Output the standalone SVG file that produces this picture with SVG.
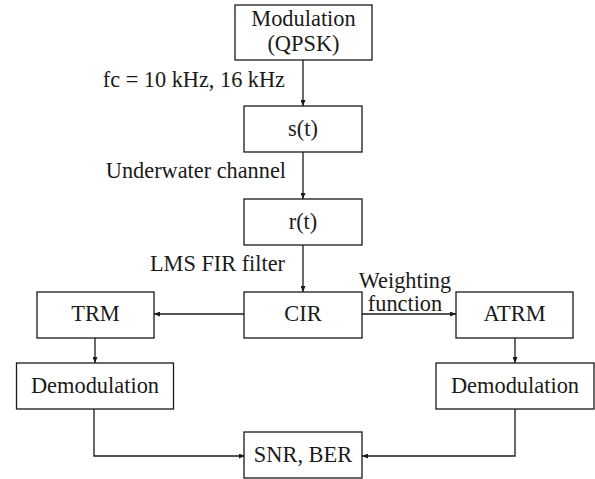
<svg xmlns="http://www.w3.org/2000/svg" width="595" height="479" viewBox="0 0 595 479">
<style>
.box{fill:#fff;stroke:#1a1a1a;stroke-width:1.3}
.t{font-family:"Liberation Serif","Times New Roman",serif;font-size:22.4px;fill:#1a1a1a;text-anchor:middle}
.l{font-family:"Liberation Serif","Times New Roman",serif;font-size:22.3px;fill:#1a1a1a}
.c{fill:none;stroke:#1a1a1a;stroke-width:1.3}
</style>
<defs>
<marker id="ah" viewBox="0 0 10 10" refX="10" refY="5" markerWidth="6" markerHeight="5" markerUnits="userSpaceOnUse" orient="auto" preserveAspectRatio="none">
<path d="M0,0 L10,5 L0,10 z" fill="#1a1a1a"/>
</marker>
</defs>
<rect width="595" height="479" fill="#fff"/>
<g id="connectors">
<line class="c" x1="303" y1="60" x2="303" y2="106" marker-end="url(#ah)"/>
<line class="c" x1="303" y1="152" x2="303" y2="199" marker-end="url(#ah)"/>
<line class="c" x1="303" y1="245" x2="303" y2="292" marker-end="url(#ah)"/>
<line class="c" x1="245" y1="314" x2="154" y2="314" marker-end="url(#ah)"/>
<line class="c" x1="362" y1="314" x2="456" y2="314" marker-end="url(#ah)"/>
<line class="c" x1="95" y1="338" x2="95" y2="363" marker-end="url(#ah)"/>
<line class="c" x1="515" y1="338" x2="515" y2="363" marker-end="url(#ah)"/>
<polyline class="c" points="94,409 94,456 245,456" marker-end="url(#ah)"/>
<polyline class="c" points="515,409 515,456 362,456" marker-end="url(#ah)"/>
<text class="l" x="285" y="87" text-anchor="end">fc = 10 kHz, 16 kHz</text>
<text class="l" x="286" y="178" text-anchor="end">Underwater channel</text>
<text class="l" x="285" y="271" text-anchor="end">LMS FIR filter</text>
<text class="l" x="405" y="288" text-anchor="middle" font-size="21.8">Weighting</text>
<text class="l" x="405" y="311" text-anchor="middle" font-size="21.8">function</text>
</g>
<g id="modulation"><rect class="box" x="235" y="5" width="137" height="55"/><text class="t" x="303.5" y="26">Modulation</text><text class="t" x="303.5" y="51">(QPSK)</text></g>
<g id="st"><rect class="box" x="244" y="106" width="118" height="46"/><text class="t" x="303" y="136">s(t)</text></g>
<g id="rt"><rect class="box" x="244" y="199" width="118" height="46"/><text class="t" x="303" y="229">r(t)</text></g>
<g id="cir"><rect class="box" x="244" y="292" width="118" height="46"/><text class="t" x="303" y="321">CIR</text></g>
<g id="trm"><rect class="box" x="37" y="292" width="117" height="46"/><text class="t" x="95.5" y="321">TRM</text></g>
<g id="atrm"><rect class="box" x="456" y="292" width="117" height="46"/><text class="t" x="514.5" y="321">ATRM</text></g>
<g id="demod-left"><rect class="box" x="16.5" y="363" width="157" height="46"/><text class="t" x="95" y="392.5">Demodulation</text></g>
<g id="demod-right"><rect class="box" x="436" y="363" width="158" height="46"/><text class="t" x="515" y="392.5">Demodulation</text></g>
<g id="snr"><rect class="box" x="244" y="432" width="118" height="46"/><text class="t" x="303" y="462">SNR, BER</text></g>
</svg>
